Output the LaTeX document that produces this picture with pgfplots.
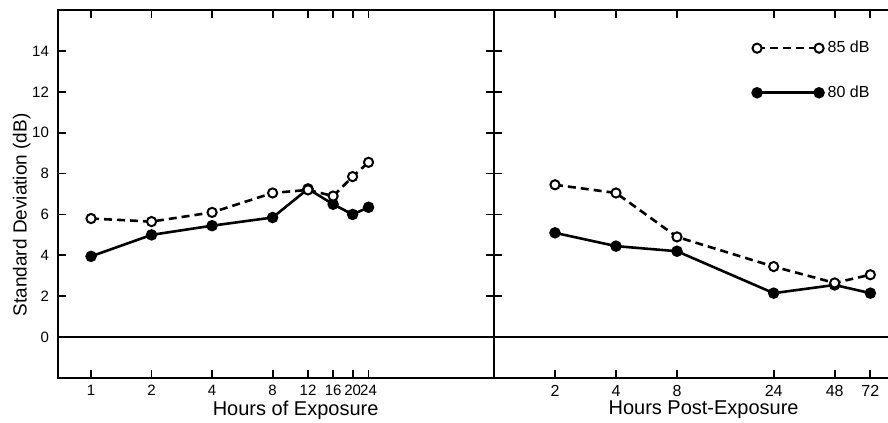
\documentclass[border=0pt]{standalone}
\usepackage{fontspec}
\setmainfont{Liberation Sans}
\usepackage{pgfplots}
\pgfplotsset{compat=1.18}
\usetikzlibrary{calc}
\begin{document}
\begin{tikzpicture}
\pgfplotsset{
  every axis/.append style={
    scale only axis, height=184pt, ymin=-2, ymax=16,
    xmode=log, log basis x=2,
    axis line style={line width=1pt},
    tick style={black, line width=0.9pt},
    tick align=inside, major tick length=4pt,
    /pgf/number format/assume math mode=true,
    extra y ticks={0},
    extra y tick style={grid=major, major grid style={black, line width=1pt}},
    xlabel style={font=\fontsize{10}{12}\selectfont, anchor=center},
    legend image code/.code={\draw[mark repeat=1,#1] plot coordinates {(0pt,0pt) (31pt,0pt)};},
  },
  s80/.style={black, line width=1.3pt, mark=*, mark size=2.2pt, mark options={solid, fill=black}},
  s85/.style={black, line width=1.3pt, dash pattern=on 4pt off 2.5pt, mark=*, mark size=2.3pt, mark options={solid, fill=white, line width=1pt}},
}
\begin{axis}[name=L, at={(0,0)}, anchor=south west,
  width=218pt, xmin=0.685, xmax=101,
  xtick={1,2,4,8,12,16,20,24}, xticklabels={1,2,4,8,12,16,20,24},
  xticklabel style={font=\fontsize{7.5}{8}\selectfont},
  ytick={2,4,...,14}, ytick pos=both, yticklabel pos=left,
  yticklabel style={font=\fontsize{7.5}{8}\selectfont, xshift=-1pt},
  xlabel={Hours of Exposure},
  xlabel style={at={(axis description cs:0.545,0)}, yshift=-16pt},
  ylabel={Standard Deviation (dB)},
  ylabel style={font=\fontsize{9.5}{11}\selectfont, at={(axis description cs:-0.083,0.443)}, anchor=center},
]
\addplot[s80] coordinates {(1,3.95)(2,5.0)(4,5.45)(8,5.85)(12,7.25)(16,6.5)(20,6.0)(24,6.35)};
\addplot[s85] coordinates {(1,5.8)(2,5.65)(4,6.1)(8,7.05)(12,7.2)(16,6.9)(20,7.85)(24,8.55)};
\end{axis}
\begin{axis}[name=R, at={(L.south east)}, anchor=south west,
  width=197pt, xmin=1, xmax=88,
  axis x line*=box, axis y line*=left, y axis line style={-},
  xtick={2,4,8,24,48,72}, xticklabels={2,4,8,24,48,72},
  xticklabel style={font=\fontsize{8}{9}\selectfont},
  ytick={2,4,...,14}, yticklabels={}, extra y tick labels={},
  xlabel={Hours Post-Exposure},
  xlabel style={at={(axis description cs:0.532,0)}, yshift=-16pt},
  reverse legend,
  legend style={draw=none, fill=none, at={(0.655,0.928)}, anchor=north west,
    font=\fontsize{8}{9}\selectfont, row sep=11pt, inner sep=0pt},
]
\addplot[s80] coordinates {(2,5.1)(4,4.45)(8,4.2)(24,2.15)(48,2.55)(72,2.15)};
\addlegendentry{80 dB}
\addplot[s85] coordinates {(2,7.45)(4,7.05)(8,4.9)(24,3.45)(48,2.65)(72,3.05)};
\addlegendentry{85 dB}
\end{axis}
\pgfresetboundingbox
\path ($(L.south west)+(-29pt,-22.5pt)$) rectangle ($(R.north east)+(0pt,5pt)$);
\end{tikzpicture}
\end{document}
